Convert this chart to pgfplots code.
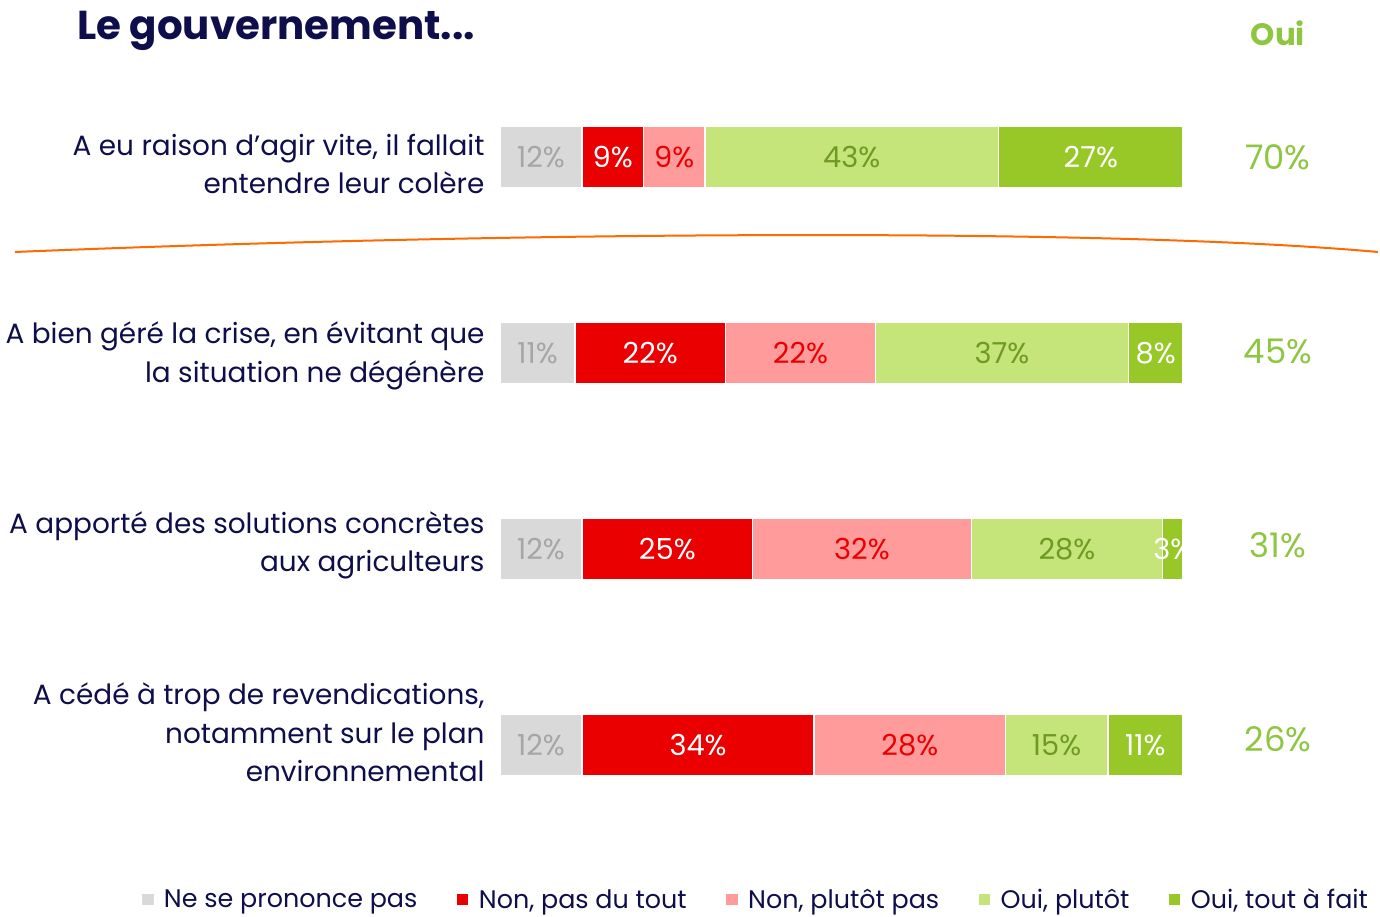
\documentclass[border=0pt]{standalone}
\usepackage{pgfplots}
\usepackage{pgfplotstable}
\pgfplotsset{compat=1.18}
\usepackage{fontspec}
\setmainfont{Poppins}
\definecolor{cGrey}{HTML}{D9D9D9}
\definecolor{cGreyT}{HTML}{A6A6A6}
\definecolor{cRed}{HTML}{EA0000}
\definecolor{cPink}{HTML}{FF9B9B}
\definecolor{cLGreen}{HTML}{C5E47A}
\definecolor{cLGreenT}{HTML}{6F9A22}
\definecolor{cGreen}{HTML}{97C828}
\definecolor{cOui}{HTML}{8FC641}
\definecolor{cNavy}{HTML}{0E0E4A}
\definecolor{cOrange}{HTML}{FF6A00}
\pgfplotstableread{
r nsp npt npp op otf
0 12 9 9 43 27
1 11 22 22 37 8
2 12 25 32 28 3
3 12 34 28 15 11
}\data
\begin{document}
\begin{tikzpicture}
\path[use as bounding box] (0,0) rectangle (1380bp,917bp);
\begin{axis}[
  at={(500bp,74bp)}, anchor=south west,
  scale only axis, width=683bp, height=784bp,
  xmin=0, xmax=100, ymin=-0.5, ymax=3.5, y dir=reverse,
  xbar stacked, bar width=62bp, clip=false,
  axis line style={draw=none}, xtick=\empty, ytick={0.036,1.015,1.982,2.936},
  major tick length=0pt,
  yticklabels={{A eu raison d'agir vite, il fallait\\entendre leur colère},
               {A bien géré la crise, en évitant que\\la situation ne dégénère},
               {A apporté des solutions concrètes\\aux agriculteurs},
               {A cédé à trop de revendications,\\notamment sur le plan\\environnemental}},
  yticklabel style={align=right, font=\fontsize{28}{38.5}\selectfont, text=cNavy, xshift=-12bp},
  legend style={at={(axis description cs:-0.531,-0.072)}, anchor=west, draw=none, fill=none,
     font=\fontsize{25.5}{28}\selectfont, text=cNavy, legend columns=-1,
     /tikz/every even column/.append style={column sep=36bp}},
  legend image code/.code={\fill[#1] (0bp,-6.5bp) rectangle (13bp,6.5bp); \path (20bp,0bp);},
  every axis plot/.append style={draw=white, line width=1.5bp},
  nodes near coords={\pgfmathprintnumber[assume math mode=true]{\rawx}\%},
  every node near coord/.append style={anchor=center, font=\fontsize{29}{32}\selectfont},
]
\addplot[fill=cGrey, visualization depends on={\thisrow{nsp} \as \rawx},
  every node near coord/.append style={text=cGreyT}] table[x=nsp, y=r] {\data};
\addplot[fill=cRed, visualization depends on={\thisrow{npt} \as \rawx},
  every node near coord/.append style={text=white}] table[x=npt, y=r] {\data};
\addplot[fill=cPink, visualization depends on={\thisrow{npp} \as \rawx},
  every node near coord/.append style={text=cRed}] table[x=npp, y=r] {\data};
\addplot[fill=cLGreen, visualization depends on={\thisrow{op} \as \rawx},
  every node near coord/.append style={text=cLGreenT}] table[x=op, y=r] {\data};
\addplot[fill=cGreen, visualization depends on={\thisrow{otf} \as \rawx},
  every node near coord/.append style={text=white}] table[x=otf, y=r] {\data};
\legend{Ne se prononce pas, {Non, pas du tout}, {Non, plutôt pas}, {Oui, plutôt}, {Oui, tout à fait}}
\node[text=cOui, font=\fontsize{31}{34}\selectfont\bfseries] at (axis cs:113.9,-0.63) {Oui};
\node[text=cOui, font=\fontsize{34}{36}\selectfont] at (axis cs:113.9,0) {70\%};
\node[text=cOui, font=\fontsize{34}{36}\selectfont] at (axis cs:113.9,0.99) {45\%};
\node[text=cOui, font=\fontsize{34}{36}\selectfont] at (axis cs:113.9,1.98) {31\%};
\node[text=cOui, font=\fontsize{34}{36}\selectfont] at (axis cs:113.9,2.97) {26\%};
\end{axis}
\node[anchor=west, text=cNavy, font=\bfseries\fontsize{40.5}{42}\selectfont, inner sep=0pt] at (77bp,886bp) {Le gouvernement...};
\draw[cOrange, line width=2bp] (15bp,665bp) .. controls (500bp,685bp) and (1100bp,690bp) .. (1378bp,665bp);
\end{tikzpicture}
\end{document}
